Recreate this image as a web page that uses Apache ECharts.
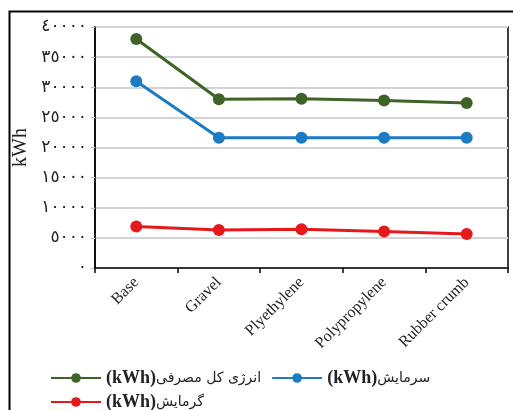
<!DOCTYPE html>
<html><head><meta charset="utf-8">
<script src="https://cdn.jsdelivr.net/npm/echarts@6/dist/echarts.min.js"></script>
<style>html,body{margin:0;padding:0;background:#fff}#c{width:513px;height:410px}</style>
</head><body><div id="c"></div>
<script>
const categories = ['Base', 'Gravel', 'Plyethylene', 'Polypropylene', 'Rubber crumb'];
const totalEnergy = [38000, 28000, 28100, 27800, 27400];
const cooling = [31000, 21600, 21600, 21600, 21600];
const heating = [6900, 6300, 6450, 6050, 5650];
const seriesNames = ['انرژی کل مصرفی', 'سرمایش', 'گرمایش'];
const unitLabel = '(kWh)';
const yTicks = [0, 5000, 10000, 15000, 20000, 25000, 30000, 35000, 40000];
const arabicDigits = '٠١٢٣٤٥٦٧٨٩';
const toArabic = v => String(v).replace(/[0-9]/g, d => arabicDigits[+d]);

const chart = echarts.init(document.getElementById('c'));
const serif = '"Liberation Serif", "DejaVu Serif", serif';
const colors = ['#3e6327', '#1b7bc3', '#e5191c'];
const legendText = {
  fontFamily: serif, fontSize: 16, color: '#222',
  rich: {
    u: {fontFamily: serif, fontSize: 18, fontWeight: 'bold', color: '#222'},
    a: {fontFamily: '"DejaVu Sans", sans-serif', fontSize: 14, color: '#222'}
  }
};
const legendBase = {
  orient: 'horizontal', itemWidth: 50, itemHeight: 12, itemGap: 10,
  textStyle: legendText,
  formatter: n => '{u|' + unitLabel + '}{a|' + n + '}'
};
chart.setOption({
  animation: false,
  graphic: [{
    type: 'rect', shape: {x: 9.5, y: 11.5, width: 520, height: 420},
    style: {fill: 'none', stroke: '#000', lineWidth: 2}, silent: true
  }],
  grid: {left: 95, right: 5, top: 27, bottom: 142, show: true, borderColor: '#000', borderWidth: 1.5},
  xAxis: {
    type: 'category', data: categories, boundaryGap: true,
    axisLine: {lineStyle: {color: '#000', width: 1.5}},
    axisTick: {show: true, length: 5, lineStyle: {color: '#000', width: 1.5}},
    axisLabel: {rotate: 45, fontFamily: serif, fontSize: 16, color: '#222', margin: 12}
  },
  yAxis: {
    type: 'value', min: 0, max: 40000, interval: 5000,
    name: 'kWh', nameLocation: 'middle', nameGap: 60, nameRotate: 90,
    nameTextStyle: {fontFamily: serif, fontSize: 20, color: '#222'},
    axisLine: {show: true, lineStyle: {color: '#000', width: 1.5}},
    axisTick: {show: true, length: 4, lineStyle: {color: '#bbb'}},
    splitLine: {lineStyle: {color: '#d4d4d4', width: 2}},
    axisLabel: {fontFamily: '"DejaVu Sans", sans-serif', fontSize: 17, color: '#222', margin: 8,
      formatter: v => yTicks.includes(v) ? toArabic(v) : ''}
  },
  legend: [
    Object.assign({left: 45, top: 364, data: [seriesNames[0], seriesNames[1]]}, legendBase),
    Object.assign({left: 45, top: 388, data: [seriesNames[2]]}, legendBase)
  ],
  series: [
    {name: seriesNames[0], type: 'line', data: totalEnergy, color: colors[0], symbol: 'circle', symbolSize: 12, lineStyle: {width: 3}},
    {name: seriesNames[1], type: 'line', data: cooling, color: colors[1], symbol: 'circle', symbolSize: 12, lineStyle: {width: 3}},
    {name: seriesNames[2], type: 'line', data: heating, color: colors[2], symbol: 'circle', symbolSize: 12, lineStyle: {width: 3}}
  ]
});
</script></body></html>
